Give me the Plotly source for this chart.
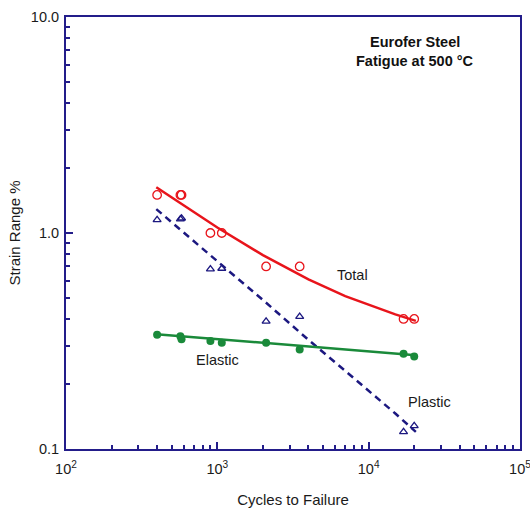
import plotly.graph_objects as go

# Measured data
cycles = [400, 570, 580, 900, 1070, 2100, 3500, 17000, 20000]
total = [1.5, 1.5, 1.5, 1.0, 1.0, 0.70, 0.70, 0.40, 0.40]
plastic = [1.15, 1.16, 1.17, 0.68, 0.685, 0.39, 0.41, 0.12, 0.128]
elastic = [0.338, 0.333, 0.322, 0.316, 0.31, 0.31, 0.289, 0.276, 0.268]

# Fitted curves
fit_cycles = [395, 600, 1000, 2000, 4000, 7000, 10000, 15000, 20500]
fit_total = [1.63, 1.34, 1.06, 0.79, 0.61, 0.51, 0.465, 0.42, 0.392]
fit_plastic = [1.29, 1.00, 0.74, 0.49, 0.32, 0.23, 0.186, 0.146, 0.12]
fit_elastic = [0.340, 0.332, 0.323, 0.311, 0.299, 0.289, 0.284, 0.277, 0.272]

x_tickvals = [100, 1000, 10000, 100000]
x_ticktext = ["10<sup>2</sup>", "10<sup>3</sup>", "10<sup>4</sup>", "10<sup>5</sup>"]
y_tickvals = [0.1, 1.0, 10.0]
y_ticktext = ["0.1", "1.0", "10.0"]

AXC = "#231d8a"
RED = "#e8141b"
NAVY = "#1c1880"
GREEN = "#1a8a3a"
FONT = "Liberation Sans, Arial, sans-serif"
TXT = "#1a1a1a"

fig = go.Figure()
fig.add_trace(go.Scatter(x=fit_cycles, y=fit_total, mode="lines",
                         line=dict(color=RED, width=2.5), showlegend=False))
fig.add_trace(go.Scatter(x=fit_cycles, y=fit_plastic, mode="lines",
                         line=dict(color=NAVY, width=2.5, dash="7px,5px"), showlegend=False))
fig.add_trace(go.Scatter(x=fit_cycles, y=fit_elastic, mode="lines",
                         line=dict(color=GREEN, width=2.5), showlegend=False))
fig.add_trace(go.Scatter(x=cycles, y=total, mode="markers",
                         marker=dict(symbol="circle-open", size=8.5, color=RED, line=dict(width=1.3)),
                         showlegend=False))
fig.add_trace(go.Scatter(x=cycles, y=plastic, mode="markers",
                         marker=dict(symbol="triangle-up-open", size=7, color=NAVY, line=dict(width=1.3)),
                         showlegend=False))
fig.add_trace(go.Scatter(x=cycles, y=elastic, mode="markers",
                         marker=dict(symbol="circle", size=8, color=GREEN),
                         showlegend=False))

minor_x = [m * 10 ** e for e in range(2, 5) for m in range(2, 10)]
minor_y = [m * 10 ** e for e in range(-1, 1) for m in range(2, 10)]

fig.update_xaxes(type="log", range=[2, 5], tickvals=x_tickvals, ticktext=x_ticktext,
                 ticks="inside", ticklen=7, tickwidth=1.5, tickcolor=AXC, automargin=False,
                 ticklabelstandoff=6, ticklabeloverflow="allow",
                 minor=dict(tickvals=minor_x, ticks="inside", ticklen=4, tickwidth=1.5, tickcolor=AXC),
                 showline=True, linecolor=AXC, linewidth=2, mirror=True, showgrid=False, zeroline=False,
                 tickfont=dict(family=FONT, size=14.5, color=TXT),
                 title=dict(text="Cycles to Failure", font=dict(family=FONT, size=15, color=TXT), standoff=18))
fig.update_yaxes(type="log", range=[-1, 1], tickvals=y_tickvals, ticktext=y_ticktext,
                 ticks="inside", ticklen=7, tickwidth=1.5, tickcolor=AXC, automargin=False,
                 ticklabelstandoff=2, ticklabeloverflow="allow",
                 minor=dict(tickvals=minor_y, ticks="inside", ticklen=4, tickwidth=1.5, tickcolor=AXC),
                 showline=True, linecolor=AXC, linewidth=2, mirror=True, showgrid=False, zeroline=False,
                 tickfont=dict(family=FONT, size=14.5, color=TXT),
                 title=dict(text="Strain Range %", font=dict(family=FONT, size=15, color=TXT), standoff=7))

fig.add_annotation(x=4.308, y=0.882, text="<b>Eurofer Steel</b>", showarrow=False,
                   font=dict(family=FONT, size=14.5, color="#111"))
fig.add_annotation(x=4.308, y=0.798, text="<b>Fatigue at 500 °C</b>", showarrow=False,
                   font=dict(family=FONT, size=14.5, color="#111"))
fig.add_annotation(x=3.895, y=-0.193, text="Total", showarrow=False,
                   font=dict(family=FONT, size=14.5, color=TXT))
fig.add_annotation(x=2.998, y=-0.590, text="Elastic", showarrow=False,
                   font=dict(family=FONT, size=14.5, color=TXT))
fig.add_annotation(x=4.40, y=-0.781, text="Plastic", showarrow=False,
                   font=dict(family=FONT, size=14.5, color=TXT))

fig.update_layout(width=530, height=508, margin=dict(l=66, r=10, t=17, b=59),
                  plot_bgcolor="white", paper_bgcolor="white")
fig.write_html("out.html", config={"displayModeBar": False},
               post_script="document.body.style.margin='0';document.body.style.overflow='hidden';")
